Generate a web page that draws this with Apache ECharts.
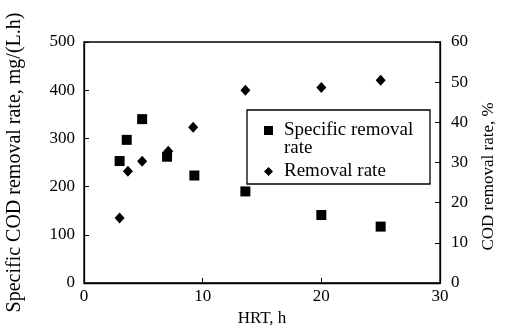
<!DOCTYPE html>
<html>
<head>
<meta charset="utf-8">
<script src="https://cdn.jsdelivr.net/npm/echarts@6/dist/echarts.min.js"></script>
<style>html,body{margin:0;padding:0;background:#fff;}#c{width:505px;height:336px;}</style>
</head>
<body>
<div id="c"></div>
<script>
const hrt = [3.0, 3.6, 4.9, 7.0, 9.3, 13.6, 20.0, 25.0];
const specificRate = [253, 297, 340, 262, 223, 190, 141, 117];
const hrtRemoval = [3.0, 3.7, 4.9, 7.1, 9.2, 13.6, 20.0, 25.0];
const removalRate = [16.2, 27.8, 30.3, 32.8, 38.8, 48.0, 48.7, 50.5];
const seriesNames = ['Specific removal rate', 'Removal rate'];

const FONT = 'Liberation Serif';
const chart = echarts.init(document.getElementById('c'));
const axisLine = {show: true, lineStyle: {color: '#000', width: 1.3}};
chart.setOption({
  backgroundColor: '#fff',
  animation: false,
  grid: {left: 84, right: 65, top: 42, bottom: 53, show: true, borderColor: '#000', borderWidth: 1.3,
         containLabel: false, outerBoundsMode: 'none'},
  xAxis: {
    type: 'value', min: 0, max: 30, interval: 10,
    name: 'HRT, h', nameLocation: 'middle', nameGap: 27,
    nameTextStyle: {fontFamily: FONT, fontSize: 17, color: '#000'},
    axisLine: axisLine,
    axisTick: {inside: true, length: 5, lineStyle: {color: '#000'}},
    axisLabel: {fontFamily: FONT, fontSize: 17, color: '#000', margin: 5},
    splitLine: {show: false}
  },
  yAxis: [{
    type: 'value', min: 0, max: 500, interval: 100,
    name: 'Specific COD removal rate, mg/(L.h)', nameLocation: 'middle', nameGap: 59,
    nameTextStyle: {fontFamily: FONT, fontSize: 20, color: '#000'},
    axisLine: axisLine,
    axisTick: {inside: true, length: 5, lineStyle: {color: '#000'}},
    axisLabel: {fontFamily: FONT, fontSize: 17, color: '#000', margin: 9},
    splitLine: {show: false}
  }, {
    type: 'value', min: 0, max: 60, interval: 10, position: 'right',
    name: 'COD removal rate, %', nameLocation: 'middle', nameGap: 40,
    nameTextStyle: {fontFamily: FONT, fontSize: 17, color: '#000', padding: [0, 28, 0, 0]},
    axisLine: axisLine,
    axisTick: {inside: true, length: 5, lineStyle: {color: '#000'}},
    axisLabel: {fontFamily: FONT, fontSize: 17, color: '#000', margin: 11, padding: [8, 0, 0, 0]},
    splitLine: {show: false}
  }],
  legend: {
    orient: 'vertical', left: 264, top: 103, padding: 0, itemGap: 4,
    itemWidth: 9, itemHeight: 9,
    data: [{name: seriesNames[0], icon: 'rect'}, {name: seriesNames[1], icon: 'diamond'}],
    formatter: function (n) { return n === seriesNames[0] ? '\nSpecific removal\nrate' : n; },
    textStyle: {fontFamily: FONT, fontSize: 19, lineHeight: 18, color: '#000', padding: [0, 0, 0, 6]}
  },
  graphic: [{
    type: 'rect', shape: {x: 247, y: 110, width: 183, height: 74},
    style: {fill: 'none', stroke: '#000', lineWidth: 1.3}, z: 100
  }],
  series: [{
    name: seriesNames[0], type: 'scatter', yAxisIndex: 0,
    symbol: 'rect', symbolSize: 10,
    itemStyle: {color: '#000', opacity: 1},
    data: hrt.map((x, i) => [x, specificRate[i]])
  }, {
    name: seriesNames[1], type: 'scatter', yAxisIndex: 1,
    symbol: 'diamond', symbolSize: [10, 11],
    itemStyle: {color: '#000', opacity: 1},
    data: hrtRemoval.map((x, i) => [x, removalRate[i]])
  }]
});
</script>
</body>
</html>
